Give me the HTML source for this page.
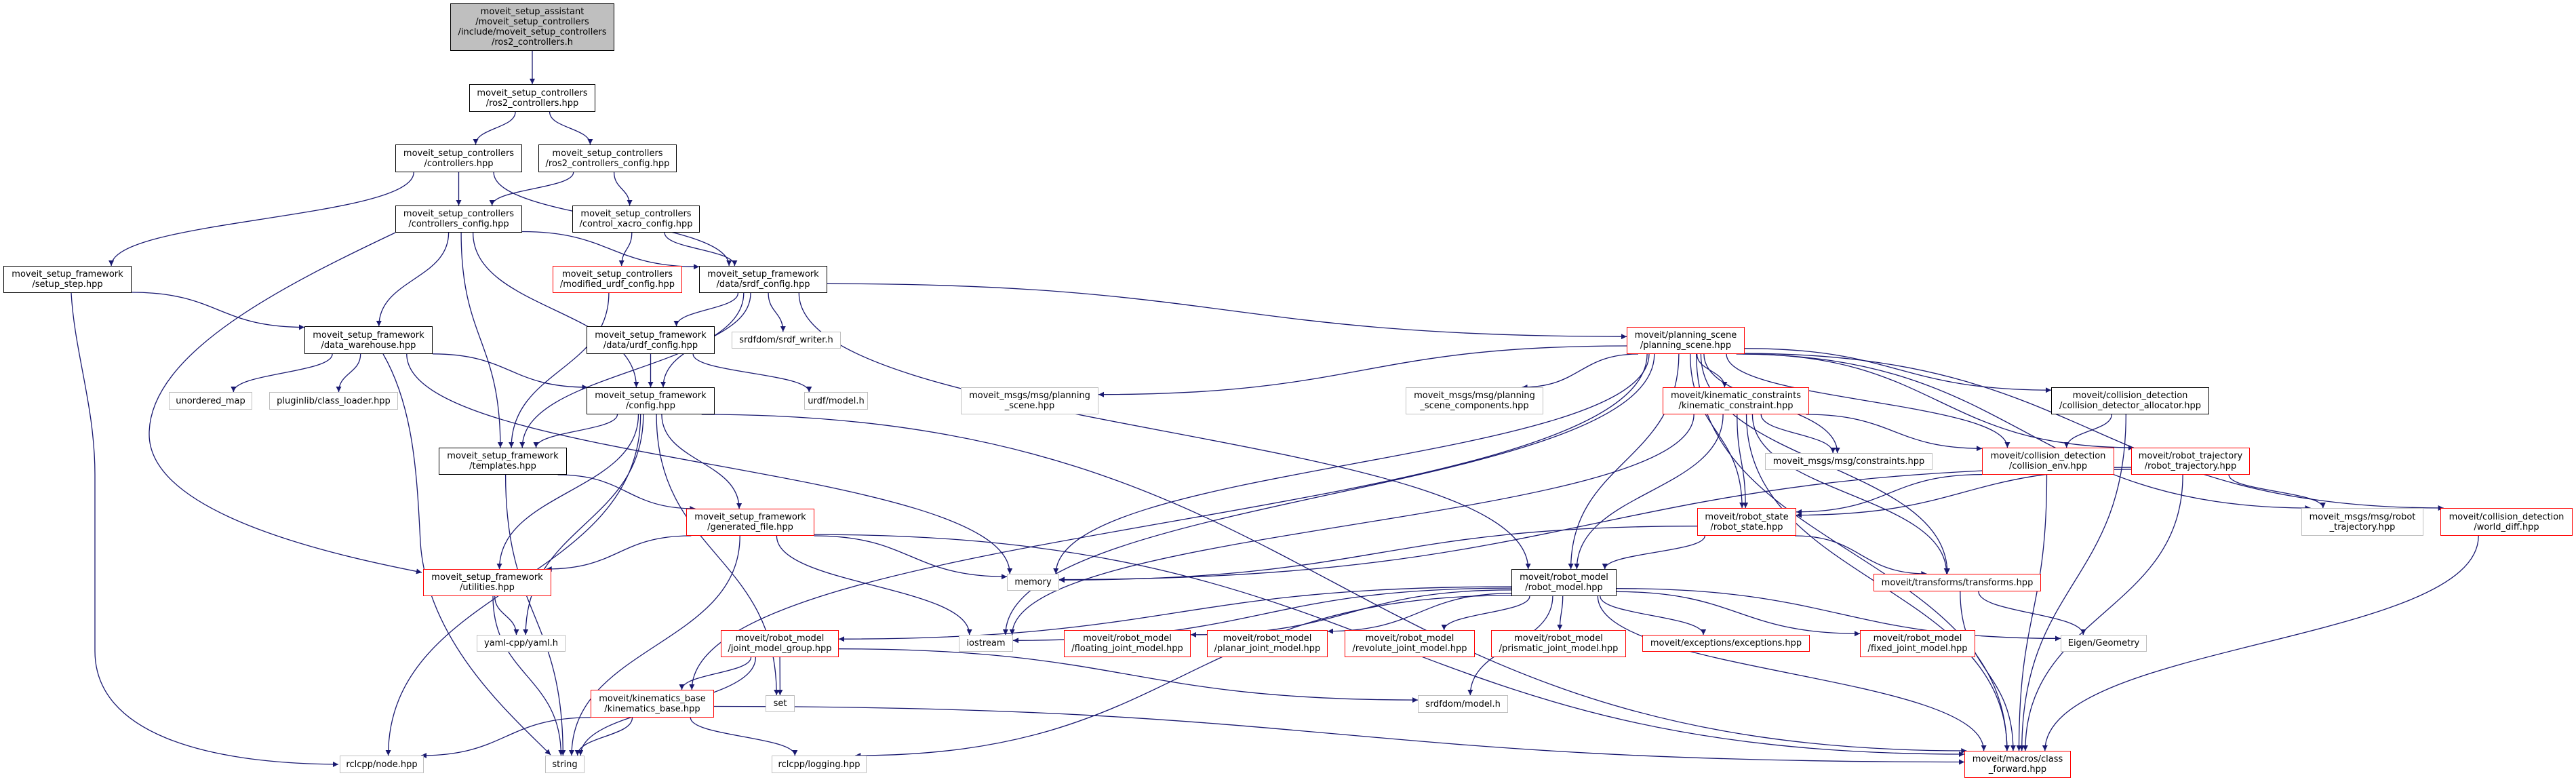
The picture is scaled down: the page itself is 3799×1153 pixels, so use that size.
<!DOCTYPE html>
<html><head><meta charset="utf-8">
<style>
html,body{margin:0;padding:0;background:#fff;}
#c{position:relative;width:3799px;height:1153px;overflow:hidden;background:#fff;}
.n{position:absolute;box-sizing:border-box;border:1.5px solid #000;background:#fff;display:flex;align-items:center;justify-content:center;text-align:center;font-family:"DejaVu Sans","Liberation Sans",sans-serif;font-size:13px;line-height:15px;color:#000;white-space:nowrap;}
.r{border-color:#ff0000;}
.g{border-color:#bfbfbf;}
.f{background:#bfbfbf;}
svg{position:absolute;left:0;top:0;}
</style></head><body>
<div id="c">
<svg id="s" width="3799" height="1153" xmlns="http://www.w3.org/2000/svg">
<defs><marker id="ah" viewBox="0 0 10 10" refX="10" refY="5" markerWidth="10" markerHeight="8" markerUnits="userSpaceOnUse" orient="auto"><path d="M0,0 L10,5 L0,10 z" fill="#191970"/></marker></defs>
<g id="eg" fill="none" stroke="#191970" stroke-width="1.3">
<path d="M105,432 C110,520 140,600 140,700 L140,960 C140,1080 300,1126 499,1127" marker-end="url(#ah)"/>
<path d="M583,343 C420,420 220,520 220,640 C220,760 500,820 622,844" marker-end="url(#ah)"/>
<path d="M565,522 C610,600 615,700 620,800 C630,950 760,1060 812,1113" marker-end="url(#ah)"/>
</g>
</svg>
<div class="n f" id="A" style="left:664px;top:5px;width:242px;height:70px">moveit_setup_assistant<br>/moveit_setup_controllers<br>/include/moveit_setup_controllers<br>/ros2_controllers.h</div>
<div class="n" id="B" style="left:692px;top:124px;width:186px;height:41px">moveit_setup_controllers<br>/ros2_controllers.hpp</div>
<div class="n" id="C" style="left:583px;top:213px;width:187px;height:41px">moveit_setup_controllers<br>/controllers.hpp</div>
<div class="n" id="D" style="left:794px;top:213px;width:204px;height:41px">moveit_setup_controllers<br>/ros2_controllers_config.hpp</div>
<div class="n" id="E" style="left:583px;top:303px;width:187px;height:40px">moveit_setup_controllers<br>/controllers_config.hpp</div>
<div class="n" id="F" style="left:844px;top:303px;width:188px;height:40px">moveit_setup_controllers<br>/control_xacro_config.hpp</div>
<div class="n" id="G" style="left:5px;top:392px;width:189px;height:40px">moveit_setup_framework<br>/setup_step.hpp</div>
<div class="n r" id="H" style="left:815px;top:392px;width:191px;height:40px">moveit_setup_controllers<br>/modified_urdf_config.hpp</div>
<div class="n" id="I" style="left:1031px;top:392px;width:189px;height:40px">moveit_setup_framework<br>/data/srdf_config.hpp</div>
<div class="n" id="J" style="left:449px;top:481px;width:189px;height:41px">moveit_setup_framework<br>/data_warehouse.hpp</div>
<div class="n" id="K" style="left:865px;top:481px;width:189px;height:41px">moveit_setup_framework<br>/data/urdf_config.hpp</div>
<div class="n g" id="L" style="left:1079px;top:489px;width:161px;height:25px">srdfdom/srdf_writer.h</div>
<div class="n g" id="M" style="left:249px;top:578px;width:123px;height:26px">unordered_map</div>
<div class="n g" id="N" style="left:397px;top:578px;width:190px;height:26px">pluginlib/class_loader.hpp</div>
<div class="n" id="O" style="left:865px;top:571px;width:189px;height:40px">moveit_setup_framework<br>/config.hpp</div>
<div class="n g" id="P" style="left:1186px;top:578px;width:94px;height:26px">urdf/model.h</div>
<div class="n" id="Q" style="left:647px;top:660px;width:189px;height:40px">moveit_setup_framework<br>/templates.hpp</div>
<div class="n r" id="R" style="left:1012px;top:750px;width:189px;height:40px">moveit_setup_framework<br>/generated_file.hpp</div>
<div class="n r" id="S" style="left:624px;top:839px;width:189px;height:40px">moveit_setup_framework<br>/utilities.hpp</div>
<div class="n g" id="T" style="left:703px;top:936px;width:131px;height:25px">yaml-cpp/yaml.h</div>
<div class="n r" id="U" style="left:1063px;top:929px;width:174px;height:40px">moveit/robot_model<br>/joint_model_group.hpp</div>
<div class="n g" id="V" style="left:1129px;top:1025px;width:43px;height:25px">set</div>
<div class="n r" id="W" style="left:871px;top:1017px;width:182px;height:41px">moveit/kinematics_base<br>/kinematics_base.hpp</div>
<div class="n g" id="X" style="left:501px;top:1114px;width:124px;height:26px">rclcpp/node.hpp</div>
<div class="n g" id="Y" style="left:804px;top:1114px;width:58px;height:26px">string</div>
<div class="n g" id="Z" style="left:1138px;top:1114px;width:140px;height:26px">rclcpp/logging.hpp</div>
<div class="n g" id="mem" style="left:1485px;top:846px;width:77px;height:25px">memory</div>
<div class="n g" id="ios" style="left:1414px;top:936px;width:80px;height:25px">iostream</div>
<div class="n g" id="mps" style="left:1417px;top:571px;width:203px;height:40px">moveit_msgs/msg/planning<br>_scene.hpp</div>
<div class="n g" id="psc" style="left:2073px;top:571px;width:203px;height:40px">moveit_msgs/msg/planning<br>_scene_components.hpp</div>
<div class="n r" id="ps" style="left:2399px;top:482px;width:174px;height:40px">moveit/planning_scene<br>/planning_scene.hpp</div>
<div class="n r" id="kc" style="left:2452px;top:571px;width:216px;height:40px">moveit/kinematic_constraints<br>/kinematic_constraint.hpp</div>
<div class="n" id="rm" style="left:2229px;top:839px;width:155px;height:40px">moveit/robot_model<br>/robot_model.hpp</div>
<div class="n r" id="rs" style="left:2503px;top:749px;width:146px;height:41px">moveit/robot_state<br>/robot_state.hpp</div>
<div class="n g" id="con" style="left:2603px;top:668px;width:247px;height:25px">moveit_msgs/msg/constraints.hpp</div>
<div class="n r" id="ce" style="left:2923px;top:660px;width:195px;height:40px">moveit/collision_detection<br>/collision_env.hpp</div>
<div class="n" id="cda" style="left:3025px;top:571px;width:233px;height:40px">moveit/collision_detection<br>/collision_detector_allocator.hpp</div>
<div class="n r" id="rt" style="left:3143px;top:660px;width:175px;height:40px">moveit/robot_trajectory<br>/robot_trajectory.hpp</div>
<div class="n r" id="tf" style="left:2763px;top:846px;width:247px;height:26px">moveit/transforms/transforms.hpp</div>
<div class="n g" id="mrt" style="left:3394px;top:749px;width:180px;height:41px">moveit_msgs/msg/robot<br>_trajectory.hpp</div>
<div class="n r" id="wd" style="left:3599px;top:749px;width:195px;height:41px">moveit/collision_detection<br>/world_diff.hpp</div>
<div class="n r" id="flo" style="left:1569px;top:929px;width:187px;height:40px">moveit/robot_model<br>/floating_joint_model.hpp</div>
<div class="n r" id="pla" style="left:1780px;top:929px;width:178px;height:40px">moveit/robot_model<br>/planar_joint_model.hpp</div>
<div class="n r" id="rev" style="left:1983px;top:929px;width:192px;height:40px">moveit/robot_model<br>/revolute_joint_model.hpp</div>
<div class="n r" id="pri" style="left:2199px;top:929px;width:199px;height:40px">moveit/robot_model<br>/prismatic_joint_model.hpp</div>
<div class="n r" id="exc" style="left:2422px;top:936px;width:247px;height:25px">moveit/exceptions/exceptions.hpp</div>
<div class="n r" id="fix" style="left:2743px;top:929px;width:170px;height:40px">moveit/robot_model<br>/fixed_joint_model.hpp</div>
<div class="n g" id="eig" style="left:3039px;top:936px;width:127px;height:25px">Eigen/Geometry</div>
<div class="n g" id="srm" style="left:2091px;top:1025px;width:133px;height:26px">srdfdom/model.h</div>
<div class="n r" id="mac" style="left:2897px;top:1107px;width:157px;height:40px">moveit/macros/class<br>_forward.hpp</div>
</div>
<script>
var E=[["A","B"],["B","C"],["B","D"],["C","E"],["C","G"],["C","I"],["D","E"],["D","F"],["E","I"],["E","J"],["E","Q"],["E","O"],["F","H"],["F","I"],
["G","J"],["H","Q"],["I","ps"],["I","K"],["I","L"],["I","O"],["I","Q"],["I","rm"],["J","M"],["J","N"],["J","O"],["J","mem"],
["K","O"],["K","P"],["O","Q"],["O","R"],["O","S"],["O","T"],["O","V"],["O","X"],["O","mac"],["R","S"],["R","Y"],["R","mem"],["R","ios"],["R","mac"],
["S","T"],["S","Y"],["Q","R"],["Q","Y"],["U","W"],["U","V"],["U","Y"],["U","srm"],["W","X"],["W","Y"],["W","Z"],["W","mac"],
["rm","U"],["rm","flo"],["rm","pla"],["rm","rev"],["rm","pri"],["rm","exc"],["rm","fix"],["rm","eig"],["rm","srm"],["rm","ios"],["rm","mac"],["rm","Z"],
["ps","mps"],["ps","psc"],["ps","kc"],["ps","mem"],["ps","rm"],["ps","rs"],["ps","con"],["ps","ce"],["ps","cda"],["ps","rt"],["ps","mrt"],["ps","wd"],["ps","tf"],["ps","W"],["ps","mac"],["ps","ios"],
["kc","rm"],["kc","rs"],["kc","con"],["kc","ce"],["kc","tf"],["kc","ios"],["kc","mac"],
["rs","rm"],["rs","tf"],["rs","mem"],["ce","rs"],["ce","mac"],["cda","ce"],["cda","mac"],["rt","rs"],["rt","mrt"],["rt","mac"],["rt","mem"],["wd","mac"],["tf","eig"],["tf","mac"]];
function bx(id){var e=document.getElementById(id);var x=e.offsetLeft,y=e.offsetTop,w=e.offsetWidth,h=e.offsetHeight;return{x:x,y:y,w:w,h:h,cx:x+w/2,cy:y+h/2};}
function clip(b,tx,ty){var dx=tx-b.cx,dy=ty-b.cy;if(dx==0&&dy==0)return[b.cx,b.cy];var sx=dx?(b.w/2)/Math.abs(dx):1e9,sy=dy?(b.h/2)/Math.abs(dy):1e9;var s=Math.min(sx,sy);return[b.cx+dx*s,b.cy+dy*s];}
var g=document.getElementById("eg");
E.forEach(function(p){var a=bx(p[0]),b=bx(p[1]);var s=clip(a,b.cx,b.cy),t=clip(b,a.cx,a.cy);var vert=Math.abs(t[1]-s[1])>Math.abs(t[0]-s[0])*0.3;var c1,c2;
if(vert){var my=(s[1]+t[1])/2;c1=[s[0],my];c2=[t[0],my];}else{var mx=(s[0]+t[0])/2;c1=[mx,s[1]];c2=[mx,t[1]];}
var el=document.createElementNS("http://www.w3.org/2000/svg","path");el.setAttribute("d","M"+s[0].toFixed(1)+","+s[1].toFixed(1)+" C"+c1[0].toFixed(1)+","+c1[1].toFixed(1)+" "+c2[0].toFixed(1)+","+c2[1].toFixed(1)+" "+t[0].toFixed(1)+","+t[1].toFixed(1));el.setAttribute("marker-end","url(#ah)");g.appendChild(el);});
</script>
</body></html>
